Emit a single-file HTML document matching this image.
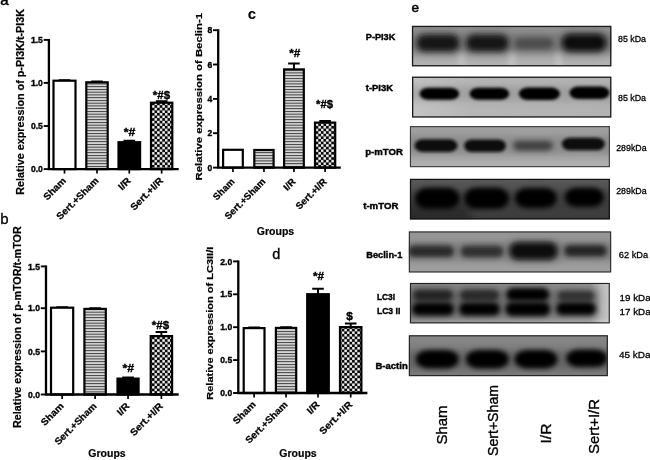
<!DOCTYPE html>
<html><head><meta charset="utf-8"><title>Figure</title>
<style>
html,body{margin:0;padding:0;background:#fff;}
svg{display:block;font-family:"Liberation Sans", Arial, sans-serif;}
text{fill:#000;}
</style></head>
<body>
<svg width="650" height="460" viewBox="0 0 650 460">
<defs>
<pattern id="ck" width="5.2" height="5.2" patternUnits="userSpaceOnUse" patternTransform="translate(1.1 1.2)"><rect width="5.2" height="5.2" fill="#0a0a0a"/><rect x="0.1" y="0.1" width="2.4" height="2.4" fill="#fff"/><rect x="2.7" y="2.7" width="2.4" height="2.4" fill="#fff"/></pattern>
<pattern id="hs" width="2.75" height="2.75" patternUnits="userSpaceOnUse"><rect width="2.75" height="2.75" fill="#f4f4f4"/><rect y="0.8" width="2.75" height="1.25" fill="#3a3a3a"/></pattern>
<filter id="b2" x="-30%" y="-100%" width="160%" height="300%"><feGaussianBlur stdDeviation="1.7"/></filter>
<filter id="b3" x="-30%" y="-100%" width="160%" height="300%"><feGaussianBlur stdDeviation="2.5"/></filter>
<filter id="b4" x="-30%" y="-100%" width="160%" height="300%"><feGaussianBlur stdDeviation="3.5"/></filter>
<linearGradient id="g1" x1="0" y1="0" x2="0" y2="1"><stop offset="0" stop-color="#929292"/><stop offset="0.55" stop-color="#979797"/><stop offset="0.8" stop-color="#acacac"/><stop offset="1" stop-color="#b4b4b4"/></linearGradient>
<linearGradient id="g2" x1="0" y1="0" x2="1" y2="0"><stop offset="0" stop-color="#c4c4c4"/><stop offset="0.3" stop-color="#b6b6b6"/><stop offset="1" stop-color="#b2b2b2"/></linearGradient>
<linearGradient id="g3" x1="0" y1="0" x2="0" y2="1"><stop offset="0" stop-color="#a0a0a0"/><stop offset="0.6" stop-color="#a4a4a4"/><stop offset="1" stop-color="#b2b2b2"/></linearGradient>
<linearGradient id="g4" x1="0" y1="0" x2="0" y2="1"><stop offset="0" stop-color="#585858"/><stop offset="0.5" stop-color="#4e4e4e"/><stop offset="0.8" stop-color="#424242"/><stop offset="1" stop-color="#3a3a3a"/></linearGradient>
<linearGradient id="g5" x1="0" y1="0" x2="0" y2="1"><stop offset="0" stop-color="#969696"/><stop offset="1" stop-color="#a0a0a0"/></linearGradient>
<linearGradient id="g6" x1="0" y1="0" x2="1" y2="0"><stop offset="0" stop-color="#808080"/><stop offset="0.9" stop-color="#8e8e8e"/><stop offset="0.96" stop-color="#bcbcbc"/><stop offset="1" stop-color="#c6c6c6"/></linearGradient>
<linearGradient id="g7" x1="0" y1="0" x2="0" y2="1"><stop offset="0" stop-color="#868686"/><stop offset="1" stop-color="#7c7c7c"/></linearGradient>
<clipPath id="bc1"><rect x="411.9" y="25.8" width="199.5" height="40.6"/></clipPath><clipPath id="bc2"><rect x="412" y="76.6" width="199.4" height="41.0"/></clipPath><clipPath id="bc3"><rect x="409.9" y="126.1" width="200.0" height="41.1"/></clipPath><clipPath id="bc4"><rect x="409.9" y="178.8" width="200.0" height="40.7"/></clipPath><clipPath id="bc5"><rect x="408.8" y="231.4" width="202.4" height="41.1"/></clipPath><clipPath id="bc6"><rect x="409.9" y="282.9" width="199.9" height="40.5"/></clipPath><clipPath id="bc7"><rect x="408.8" y="335.2" width="199.1" height="41.0"/></clipPath></defs>
<rect width="650" height="460" fill="#fff"/>
<g><path d="M64.5 80.6V80.2M58.7 80.2H70.3" stroke="#000" stroke-width="2" fill="none"/>
<rect x="53.50" y="80.70" width="22.00" height="88.40" fill="#fff" stroke="#000" stroke-width="2.2"/>
<path d="M64.5 169.1V173.6" stroke="#000" stroke-width="1.7"/>
<path d="M97.0 82.2V81.6M91.2 81.6H102.8" stroke="#000" stroke-width="2" fill="none"/>
<rect x="86.30" y="82.30" width="21.40" height="86.80" fill="url(#hs)" stroke="#000" stroke-width="2.2"/>
<path d="M97.0 169.1V173.6" stroke="#000" stroke-width="1.7"/>
<path d="M129.3 142.1V140.8M123.50000000000001 140.8H135.10000000000002" stroke="#000" stroke-width="2" fill="none"/>
<rect x="118.50" y="142.20" width="21.60" height="26.90" fill="#000" stroke="#000" stroke-width="2.2"/>
<path d="M129.3 169.1V173.6" stroke="#000" stroke-width="1.7"/>
<path d="M161.65 102.6V101.2M155.85 101.2H167.45000000000002" stroke="#000" stroke-width="2" fill="none"/>
<rect x="151.00" y="102.70" width="21.30" height="66.40" fill="url(#ck)" stroke="#000" stroke-width="2.2"/>
<path d="M161.65 169.1V173.6" stroke="#000" stroke-width="1.7"/>
<path d="M48.9 38.9V170.15M47.8 169.1H178.7" stroke="#000" stroke-width="2.3000000000000003" fill="none"/>
<path d="M43.699999999999996 39.9H48.9" stroke="#000" stroke-width="1.9"/>
<text x="42.9" y="43.0" font-size="8.6" font-weight="bold" text-anchor="end" stroke="#000" stroke-width="0.35">1.5</text>
<path d="M43.699999999999996 82.9H48.9" stroke="#000" stroke-width="1.9"/>
<text x="42.9" y="86.0" font-size="8.6" font-weight="bold" text-anchor="end" stroke="#000" stroke-width="0.35">1.0</text>
<path d="M43.699999999999996 126H48.9" stroke="#000" stroke-width="1.9"/>
<text x="42.9" y="129.1" font-size="8.6" font-weight="bold" text-anchor="end" stroke="#000" stroke-width="0.35">0.5</text>
<path d="M43.699999999999996 169.1H48.9" stroke="#000" stroke-width="1.9"/>
<text x="42.9" y="172.2" font-size="8.6" font-weight="bold" text-anchor="end" stroke="#000" stroke-width="0.35">0.0</text>
<text x="66.7" y="181.3" font-size="9.6" font-weight="bold" text-anchor="end" transform="rotate(-45 66.7 181.3)" textLength="27.5" lengthAdjust="spacingAndGlyphs" stroke="#000" stroke-width="0.25">Sham</text>
<text x="99.2" y="181.3" font-size="9.6" font-weight="bold" text-anchor="end" transform="rotate(-45 99.2 181.3)" textLength="55" lengthAdjust="spacingAndGlyphs" stroke="#000" stroke-width="0.25">Sert.+Sham</text>
<text x="131.5" y="181.3" font-size="9.6" font-weight="bold" text-anchor="end" transform="rotate(-45 131.5 181.3)" textLength="13.5" lengthAdjust="spacingAndGlyphs" stroke="#000" stroke-width="0.25">I/R</text>
<text x="163.85" y="181.3" font-size="9.6" font-weight="bold" text-anchor="end" transform="rotate(-45 163.85 181.3)" textLength="42" lengthAdjust="spacingAndGlyphs" stroke="#000" stroke-width="0.25">Sert.+I/R</text>
<text x="23.9" y="194.7" font-size="10.5" font-weight="bold" transform="rotate(-90 23.9 194.7)" textLength="185.8" lengthAdjust="spacingAndGlyphs" stroke="#000" stroke-width="0.2">Relative expression of p-PI3K/t-PI3K</text>
<text x="129.5" y="136" font-size="11.8" font-weight="bold" text-anchor="middle" textLength="11.6" lengthAdjust="spacingAndGlyphs" stroke="#000" stroke-width="0.4">*#</text>
<text x="161.4" y="98.6" font-size="11.8" font-weight="bold" text-anchor="middle" textLength="17.3" lengthAdjust="spacingAndGlyphs" stroke="#000" stroke-width="0.4">*#$</text></g>
<g><path d="M62.099999999999994 307.6V307.2M56.3 307.2H67.89999999999999" stroke="#000" stroke-width="2" fill="none"/>
<rect x="51.00" y="307.70" width="22.20" height="86.80" fill="#fff" stroke="#000" stroke-width="2.2"/>
<path d="M62.099999999999994 394.5V399.0" stroke="#000" stroke-width="1.7"/>
<path d="M95.1 308.8V308.3M89.3 308.3H100.89999999999999" stroke="#000" stroke-width="2" fill="none"/>
<rect x="84.40" y="308.90" width="21.40" height="85.60" fill="url(#hs)" stroke="#000" stroke-width="2.2"/>
<path d="M95.1 394.5V399.0" stroke="#000" stroke-width="1.7"/>
<path d="M128.05 378.5V377.6M122.25000000000001 377.6H133.85000000000002" stroke="#000" stroke-width="2" fill="none"/>
<rect x="117.50" y="378.60" width="21.10" height="15.90" fill="#000" stroke="#000" stroke-width="2.2"/>
<path d="M128.05 394.5V399.0" stroke="#000" stroke-width="1.7"/>
<path d="M161.39999999999998 336V332M155.59999999999997 332H167.2" stroke="#000" stroke-width="2" fill="none"/>
<rect x="150.70" y="336.10" width="21.40" height="58.40" fill="url(#ck)" stroke="#000" stroke-width="2.2"/>
<path d="M161.39999999999998 394.5V399.0" stroke="#000" stroke-width="1.7"/>
<path d="M46 265.4V395.55M44.9 394.5H178.7" stroke="#000" stroke-width="2.3000000000000003" fill="none"/>
<path d="M40.8 266.4H46" stroke="#000" stroke-width="1.9"/>
<text x="40.0" y="269.5" font-size="8.6" font-weight="bold" text-anchor="end" stroke="#000" stroke-width="0.35">1.5</text>
<path d="M40.8 308.2H46" stroke="#000" stroke-width="1.9"/>
<text x="40.0" y="311.3" font-size="8.6" font-weight="bold" text-anchor="end" stroke="#000" stroke-width="0.35">1.0</text>
<path d="M40.8 351.4H46" stroke="#000" stroke-width="1.9"/>
<text x="40.0" y="354.5" font-size="8.6" font-weight="bold" text-anchor="end" stroke="#000" stroke-width="0.35">0.5</text>
<path d="M40.8 394.5H46" stroke="#000" stroke-width="1.9"/>
<text x="40.0" y="397.6" font-size="8.6" font-weight="bold" text-anchor="end" stroke="#000" stroke-width="0.35">0.0</text>
<text x="64.3" y="406.7" font-size="9.6" font-weight="bold" text-anchor="end" transform="rotate(-45 64.3 406.7)" textLength="27.5" lengthAdjust="spacingAndGlyphs" stroke="#000" stroke-width="0.25">Sham</text>
<text x="97.3" y="406.7" font-size="9.6" font-weight="bold" text-anchor="end" transform="rotate(-45 97.3 406.7)" textLength="55" lengthAdjust="spacingAndGlyphs" stroke="#000" stroke-width="0.25">Sert.+Sham</text>
<text x="130.25" y="406.7" font-size="9.6" font-weight="bold" text-anchor="end" transform="rotate(-45 130.25 406.7)" textLength="13.5" lengthAdjust="spacingAndGlyphs" stroke="#000" stroke-width="0.25">I/R</text>
<text x="163.6" y="406.7" font-size="9.6" font-weight="bold" text-anchor="end" transform="rotate(-45 163.6 406.7)" textLength="42" lengthAdjust="spacingAndGlyphs" stroke="#000" stroke-width="0.25">Sert.+I/R</text>
<text x="21" y="427.9" font-size="10.5" font-weight="bold" transform="rotate(-90 21 427.9)" textLength="201.6" lengthAdjust="spacingAndGlyphs" stroke="#000" stroke-width="0.2">Relative expression of p-mTOR/t-mTOR</text>
<text x="107" y="457.3" font-size="10.5" font-weight="bold" text-anchor="middle" stroke="#000" stroke-width="0.2">Groups</text>
<text x="128.2" y="371.5" font-size="11.8" font-weight="bold" text-anchor="middle" textLength="11.6" lengthAdjust="spacingAndGlyphs" stroke="#000" stroke-width="0.4">*#</text>
<text x="160.5" y="328.5" font-size="11.8" font-weight="bold" text-anchor="middle" textLength="17.3" lengthAdjust="spacingAndGlyphs" stroke="#000" stroke-width="0.4">*#$</text></g>
<g><rect x="223.10" y="149.80" width="19.70" height="17.80" fill="#fff" stroke="#000" stroke-width="2.2"/>
<path d="M232.95 167.6V172.1" stroke="#000" stroke-width="1.7"/>
<rect x="254.30" y="150.00" width="19.30" height="17.60" fill="url(#hs)" stroke="#000" stroke-width="2.2"/>
<path d="M263.95 167.6V172.1" stroke="#000" stroke-width="1.7"/>
<path d="M293.95 69.3V63.5M288.15 63.5H299.75" stroke="#000" stroke-width="2" fill="none"/>
<rect x="284.10" y="69.40" width="19.70" height="98.20" fill="url(#hs)" stroke="#000" stroke-width="2.2"/>
<path d="M293.95 167.6V172.1" stroke="#000" stroke-width="1.7"/>
<path d="M325.1 122.5V121M319.3 121H330.90000000000003" stroke="#000" stroke-width="2" fill="none"/>
<rect x="315.00" y="122.60" width="20.20" height="45.00" fill="url(#ck)" stroke="#000" stroke-width="2.2"/>
<path d="M325.1 167.6V172.1" stroke="#000" stroke-width="1.7"/>
<path d="M218.2 29.2V168.65M217.1 167.6H340.8" stroke="#000" stroke-width="2.3000000000000003" fill="none"/>
<path d="M213.0 30.2H218.2" stroke="#000" stroke-width="1.9"/>
<text x="212.2" y="33.3" font-size="8.6" font-weight="bold" text-anchor="end" stroke="#000" stroke-width="0.35">8</text>
<path d="M213.0 64.5H218.2" stroke="#000" stroke-width="1.9"/>
<text x="212.2" y="67.6" font-size="8.6" font-weight="bold" text-anchor="end" stroke="#000" stroke-width="0.35">6</text>
<path d="M213.0 98.9H218.2" stroke="#000" stroke-width="1.9"/>
<text x="212.2" y="102.0" font-size="8.6" font-weight="bold" text-anchor="end" stroke="#000" stroke-width="0.35">4</text>
<path d="M213.0 133.2H218.2" stroke="#000" stroke-width="1.9"/>
<text x="212.2" y="136.29999999999998" font-size="8.6" font-weight="bold" text-anchor="end" stroke="#000" stroke-width="0.35">2</text>
<path d="M213.0 167.6H218.2" stroke="#000" stroke-width="1.9"/>
<text x="212.2" y="170.7" font-size="8.6" font-weight="bold" text-anchor="end" stroke="#000" stroke-width="0.35">0</text>
<text x="235.15" y="182.3" font-size="9.6" font-weight="bold" text-anchor="end" transform="rotate(-45 235.15 182.3)" textLength="26" lengthAdjust="spacingAndGlyphs" stroke="#000" stroke-width="0.25">Sham</text>
<text x="266.15" y="182.3" font-size="9.6" font-weight="bold" text-anchor="end" transform="rotate(-45 266.15 182.3)" textLength="53.2" lengthAdjust="spacingAndGlyphs" stroke="#000" stroke-width="0.25">Sert.+Sham</text>
<text x="296.15" y="182.3" font-size="9.6" font-weight="bold" text-anchor="end" transform="rotate(-45 296.15 182.3)" textLength="12.5" lengthAdjust="spacingAndGlyphs" stroke="#000" stroke-width="0.25">I/R</text>
<text x="327.3" y="182.3" font-size="9.6" font-weight="bold" text-anchor="end" transform="rotate(-45 327.3 182.3)" textLength="39.3" lengthAdjust="spacingAndGlyphs" stroke="#000" stroke-width="0.25">Sert.+I/R</text>
<text x="202.4" y="180.4" font-size="9.5" font-weight="bold" transform="rotate(-90 202.4 180.4)" textLength="167.4" lengthAdjust="spacingAndGlyphs" stroke="#000" stroke-width="0.2">Relative expression of Beclin-1</text>
<text x="275.5" y="234.7" font-size="10.5" font-weight="bold" text-anchor="middle" stroke="#000" stroke-width="0.2">Groups</text>
<text x="294.7" y="57" font-size="11.8" font-weight="bold" text-anchor="middle" textLength="11.1" lengthAdjust="spacingAndGlyphs" stroke="#000" stroke-width="0.4">*#</text>
<text x="324.5" y="108" font-size="11.8" font-weight="bold" text-anchor="middle" textLength="17" lengthAdjust="spacingAndGlyphs" stroke="#000" stroke-width="0.4">*#$</text></g>
<g><path d="M254.10000000000002 328V327.5M248.3 327.5H259.90000000000003" stroke="#000" stroke-width="2" fill="none"/>
<rect x="243.70" y="328.10" width="20.80" height="64.90" fill="#fff" stroke="#000" stroke-width="2.2"/>
<path d="M254.10000000000002 393V397.5" stroke="#000" stroke-width="1.7"/>
<path d="M286.05 327.8V327.2M280.25 327.2H291.85" stroke="#000" stroke-width="2" fill="none"/>
<rect x="275.90" y="327.90" width="20.30" height="65.10" fill="url(#hs)" stroke="#000" stroke-width="2.2"/>
<path d="M286.05 393V397.5" stroke="#000" stroke-width="1.7"/>
<path d="M318.0 294.1V288.8M312.2 288.8H323.8" stroke="#000" stroke-width="2" fill="none"/>
<rect x="307.20" y="294.20" width="21.60" height="98.80" fill="#000" stroke="#000" stroke-width="2.2"/>
<path d="M318.0 393V397.5" stroke="#000" stroke-width="1.7"/>
<path d="M350.7 327V323.5M344.9 323.5H356.5" stroke="#000" stroke-width="2" fill="none"/>
<rect x="340.00" y="327.10" width="21.40" height="65.90" fill="url(#ck)" stroke="#000" stroke-width="2.2"/>
<path d="M350.7 393V397.5" stroke="#000" stroke-width="1.7"/>
<path d="M238.3 260.4V394.05M237.20000000000002 393H367.4" stroke="#000" stroke-width="2.3000000000000003" fill="none"/>
<path d="M233.10000000000002 261.4H238.3" stroke="#000" stroke-width="1.9"/>
<text x="232.3" y="264.5" font-size="8.6" font-weight="bold" text-anchor="end" stroke="#000" stroke-width="0.35">2.0</text>
<path d="M233.10000000000002 294.3H238.3" stroke="#000" stroke-width="1.9"/>
<text x="232.3" y="297.40000000000003" font-size="8.6" font-weight="bold" text-anchor="end" stroke="#000" stroke-width="0.35">1.5</text>
<path d="M233.10000000000002 327.2H238.3" stroke="#000" stroke-width="1.9"/>
<text x="232.3" y="330.3" font-size="8.6" font-weight="bold" text-anchor="end" stroke="#000" stroke-width="0.35">1.0</text>
<path d="M233.10000000000002 360.1H238.3" stroke="#000" stroke-width="1.9"/>
<text x="232.3" y="363.20000000000005" font-size="8.6" font-weight="bold" text-anchor="end" stroke="#000" stroke-width="0.35">0.5</text>
<path d="M233.10000000000002 393H238.3" stroke="#000" stroke-width="1.9"/>
<text x="232.3" y="396.1" font-size="8.6" font-weight="bold" text-anchor="end" stroke="#000" stroke-width="0.35">0.0</text>
<text x="256.3" y="405.2" font-size="9.6" font-weight="bold" text-anchor="end" transform="rotate(-45 256.3 405.2)" textLength="27.5" lengthAdjust="spacingAndGlyphs" stroke="#000" stroke-width="0.25">Sham</text>
<text x="288.25" y="405.2" font-size="9.6" font-weight="bold" text-anchor="end" transform="rotate(-45 288.25 405.2)" textLength="55" lengthAdjust="spacingAndGlyphs" stroke="#000" stroke-width="0.25">Sert.+Sham</text>
<text x="320.2" y="405.2" font-size="9.6" font-weight="bold" text-anchor="end" transform="rotate(-45 320.2 405.2)" textLength="13.5" lengthAdjust="spacingAndGlyphs" stroke="#000" stroke-width="0.25">I/R</text>
<text x="352.9" y="405.2" font-size="9.6" font-weight="bold" text-anchor="end" transform="rotate(-45 352.9 405.2)" textLength="42" lengthAdjust="spacingAndGlyphs" stroke="#000" stroke-width="0.25">Sert.+I/R</text>
<text x="213.4" y="399.7" font-size="9.3" font-weight="bold" transform="rotate(-90 213.4 399.7)" textLength="153" lengthAdjust="spacingAndGlyphs" stroke="#000" stroke-width="0.2">Relative expression of LC3II/I</text>
<text x="298" y="456.5" font-size="10.5" font-weight="bold" text-anchor="middle" stroke="#000" stroke-width="0.2">Groups</text>
<text x="318.5" y="280" font-size="11.8" font-weight="bold" text-anchor="middle" textLength="11.1" lengthAdjust="spacingAndGlyphs" stroke="#000" stroke-width="0.4">*#</text>
<text x="349.5" y="320" font-size="11.8" font-weight="bold" text-anchor="middle" stroke="#000" stroke-width="0.4">$</text></g>
<text x="0.2" y="5" font-size="15" stroke="#000" stroke-width="0.5">a</text>
<text x="0.3" y="224.4" font-size="15" stroke="#000" stroke-width="0.3">b</text>
<text x="247.8" y="19.3" font-size="15" font-weight="bold">c</text>
<text x="272.2" y="259.3" font-size="14.5" stroke="#000" stroke-width="0.3">d</text>
<text x="411.4" y="12.2" font-size="13.5" stroke="#000" stroke-width="0.55">e</text>
<g clip-path="url(#bc1)">
<rect x="411.9" y="25.8" width="199.5" height="40.6" fill="url(#g1)"/>
<rect x="405" y="33" width="215.0" height="20.0" fill="#6a6a6a" opacity="0.5" filter="url(#b4)"/><rect x="458" y="52" width="7.0" height="18.0" fill="#fff" opacity="0.2" filter="url(#b3)"/><rect x="508" y="52" width="8.0" height="18.0" fill="#fff" opacity="0.2" filter="url(#b3)"/><rect x="555" y="52" width="7.0" height="18.0" fill="#fff" opacity="0.2" filter="url(#b3)"/>
<rect x="414.0" y="32.0" width="48.0" height="22.0" rx="11.0" ry="11.0" fill="#383838" opacity="0.45" filter="url(#b4)"/>
<rect x="463.5" y="32.0" width="48.0" height="22.0" rx="11.0" ry="11.0" fill="#383838" opacity="0.45" filter="url(#b4)"/>
<rect x="559.0" y="31.2" width="50.0" height="23.0" rx="11.5" ry="11.5" fill="#383838" opacity="0.5" filter="url(#b4)"/>
<rect x="513.0" y="35.5" width="42.0" height="16.0" rx="8.0" ry="8.0" fill="#484848" opacity="0.3" filter="url(#b4)"/>
<rect x="417.5" y="35.4" width="41.0" height="15.2" rx="7.6" ry="7.6" fill="#121212" opacity="1" filter="url(#b3)"/>
<rect x="466.8" y="35.4" width="41.0" height="15.2" rx="7.6" ry="7.6" fill="#121212" opacity="1" filter="url(#b3)"/>
<rect x="515.0" y="38.5" width="38.0" height="10.0" rx="5.0" ry="5.0" fill="#484848" opacity="0.9" filter="url(#b3)"/>
<rect x="562.5" y="34.7" width="43.0" height="16.0" rx="8.0" ry="8.0" fill="#0e0e0e" opacity="1" filter="url(#b3)"/>
</g>
<rect x="412.55" y="26.45" width="198.20" height="39.30" fill="none" stroke="#1a1a1a" stroke-width="1.3"/>
<g clip-path="url(#bc2)">
<rect x="412" y="76.6" width="199.4" height="41.0" fill="url(#g2)"/>
<rect x="405" y="86" width="215.0" height="15.0" fill="#707070" opacity="0.3" filter="url(#b4)"/>
<rect x="419.6" y="87.8" width="39.6" height="12.0" rx="8.4" ry="6.0" fill="#040404" opacity="1" filter="url(#b2)"/>
<rect x="469.6" y="87.8" width="39.6" height="12.0" rx="8.4" ry="6.0" fill="#040404" opacity="1" filter="url(#b2)"/>
<rect x="518.9" y="87.6" width="41.0" height="12.4" rx="8.7" ry="6.2" fill="#040404" opacity="1" filter="url(#b2)"/>
<rect x="569.5" y="86.6" width="40.0" height="12.4" rx="8.7" ry="6.2" fill="#040404" opacity="1" filter="url(#b2)"/>
</g>
<rect x="412.65" y="77.25" width="198.10" height="39.70" fill="none" stroke="#1a1a1a" stroke-width="1.3"/>
<g clip-path="url(#bc3)">
<rect x="409.9" y="126.1" width="200.0" height="41.1" fill="url(#g3)"/>
<rect x="405" y="136" width="215.0" height="19.0" fill="#606060" opacity="0.35" filter="url(#b4)"/>
<rect x="414.5" y="139.3" width="43.0" height="12.6" rx="8.2" ry="6.3" fill="#0e0e0e" opacity="1" filter="url(#b2)"/>
<rect x="464.0" y="139.5" width="42.0" height="12.6" rx="8.2" ry="6.3" fill="#0e0e0e" opacity="1" filter="url(#b2)"/>
<rect x="513.0" y="140.8" width="40.0" height="10.0" rx="6.5" ry="5.0" fill="#3a3a3a" opacity="0.9" filter="url(#b3)"/>
<rect x="561.8" y="137.7" width="43.0" height="12.6" rx="8.2" ry="6.3" fill="#0c0c0c" opacity="1" filter="url(#b2)"/>
</g>
<rect x="410.45" y="126.65" width="198.90" height="40.00" fill="none" stroke="#3a3a3a" stroke-width="1.1"/>
<g clip-path="url(#bc4)">
<rect x="409.9" y="178.8" width="200.0" height="40.7" fill="url(#g4)"/>
<rect x="405" y="190" width="215.0" height="20.0" fill="#202020" opacity="0.3" filter="url(#b4)"/><rect x="405" y="205" width="65.0" height="20.0" fill="#101010" opacity="0.35" filter="url(#b4)"/>
<rect x="414.8" y="187.8" width="45.0" height="21.0" rx="12.6" ry="10.5" fill="#000" opacity="1" filter="url(#b3)"/>
<rect x="464.1" y="187.8" width="45.0" height="21.0" rx="12.6" ry="10.5" fill="#000" opacity="1" filter="url(#b3)"/>
<rect x="514.8" y="188.0" width="42.0" height="20.0" rx="12.0" ry="10.0" fill="#000" opacity="1" filter="url(#b3)"/>
<rect x="564.8" y="187.8" width="39.0" height="19.0" rx="11.4" ry="9.5" fill="#000" opacity="1" filter="url(#b3)"/>
</g>
<rect x="410.50" y="179.40" width="198.80" height="39.50" fill="none" stroke="#111" stroke-width="1.2"/>
<g clip-path="url(#bc5)">
<rect x="408.8" y="231.4" width="202.4" height="41.1" fill="url(#g5)"/>
<rect x="400" y="242" width="220.0" height="19.0" fill="#5a5a5a" opacity="0.4" filter="url(#b4)"/>
<rect x="408.0" y="245.5" width="46.0" height="11.6" rx="5.8" ry="5.8" fill="#202020" opacity="0.92" filter="url(#b3)"/>
<rect x="460.5" y="245.7" width="43.0" height="11.6" rx="5.8" ry="5.8" fill="#262626" opacity="0.9" filter="url(#b3)"/>
<rect x="508.0" y="240.5" width="51.0" height="21.0" rx="10.5" ry="10.5" fill="#303030" opacity="0.5" filter="url(#b4)"/>
<rect x="510.0" y="243.0" width="47.0" height="16.0" rx="8.0" ry="8.0" fill="#0a0a0a" opacity="1" filter="url(#b3)"/>
<rect x="564.0" y="245.0" width="43.0" height="11.6" rx="5.8" ry="5.8" fill="#1e1e1e" opacity="0.92" filter="url(#b3)"/>
</g>
<rect x="409.35" y="231.95" width="201.30" height="40.00" fill="none" stroke="#2a2a2a" stroke-width="1.1"/>
<g clip-path="url(#bc6)">
<rect x="409.9" y="282.9" width="199.9" height="40.5" fill="url(#g6)"/>
<rect x="400" y="290" width="200.0" height="26.0" fill="#3a3a3a" opacity="0.35" filter="url(#b4)"/><rect x="400" y="319.5" width="220.0" height="6.5" fill="#fff" opacity="0.18" filter="url(#b2)"/>
<rect x="413.0" y="289.7" width="40.0" height="11.2" rx="5.6" ry="5.6" fill="#1c1c1c" opacity="0.92" filter="url(#b3)"/>
<rect x="460.0" y="289.7" width="39.0" height="11.2" rx="5.6" ry="5.6" fill="#202020" opacity="0.9" filter="url(#b3)"/>
<rect x="506.3" y="287.9" width="43.0" height="13.2" rx="6.6" ry="6.6" fill="#060606" opacity="1" filter="url(#b3)"/>
<rect x="557.5" y="290.8" width="37.0" height="10.4" rx="5.2" ry="5.2" fill="#2c2c2c" opacity="0.9" filter="url(#b3)"/>
<rect x="412.0" y="302.4" width="42.0" height="13.2" rx="6.6" ry="6.6" fill="#020202" opacity="1" filter="url(#b3)"/>
<rect x="459.0" y="302.4" width="41.0" height="13.2" rx="6.6" ry="6.6" fill="#020202" opacity="1" filter="url(#b3)"/>
<rect x="505.3" y="302.0" width="45.0" height="14.0" rx="7.0" ry="7.0" fill="#000" opacity="1" filter="url(#b3)"/>
<rect x="556.0" y="302.3" width="40.0" height="12.8" rx="6.4" ry="6.4" fill="#040404" opacity="1" filter="url(#b3)"/>
</g>
<rect x="410.45" y="283.45" width="198.80" height="39.40" fill="none" stroke="#222" stroke-width="1.1"/>
<g clip-path="url(#bc7)">
<rect x="408.8" y="335.2" width="199.1" height="41.0" fill="url(#g7)"/>
<rect x="400" y="350" width="220.0" height="20.0" fill="#404040" opacity="0.4" filter="url(#b4)"/>
<rect x="415.8" y="349.9" width="43.0" height="18.6" rx="12.6" ry="9.3" fill="#000" opacity="1" filter="url(#b3)"/>
<rect x="465.9" y="349.9" width="43.0" height="18.6" rx="12.6" ry="9.3" fill="#000" opacity="1" filter="url(#b3)"/>
<rect x="514.4" y="349.9" width="43.0" height="18.6" rx="12.6" ry="9.3" fill="#000" opacity="1" filter="url(#b3)"/>
<rect x="566.3" y="349.4" width="41.0" height="17.6" rx="11.9" ry="8.8" fill="#000" opacity="1" filter="url(#b3)"/>
</g>
<rect x="409.40" y="335.80" width="197.90" height="39.80" fill="none" stroke="#262626" stroke-width="1.2"/>
<text x="365.8" y="40.4" font-size="9.2" font-weight="bold" textLength="29.5" lengthAdjust="spacingAndGlyphs" stroke="#000" stroke-width="0.4">P-PI3K</text>
<text x="365.8" y="91.2" font-size="9.2" font-weight="bold" textLength="27.2" lengthAdjust="spacingAndGlyphs" stroke="#000" stroke-width="0.4">t-PI3K</text>
<text x="365.2" y="155" font-size="9.2" font-weight="bold" textLength="37.7" lengthAdjust="spacingAndGlyphs" stroke="#000" stroke-width="0.4">p-mTOR</text>
<text x="363.2" y="208.5" font-size="9.2" font-weight="bold" textLength="35.2" lengthAdjust="spacingAndGlyphs" stroke="#000" stroke-width="0.4">t-mTOR</text>
<text x="366.3" y="258.4" font-size="9.4" font-weight="bold" textLength="36" lengthAdjust="spacingAndGlyphs" stroke="#000" stroke-width="0.4">Beclin-1</text>
<text x="376.9" y="300.4" font-size="9.4" font-weight="bold" textLength="18.1" lengthAdjust="spacingAndGlyphs" stroke="#000" stroke-width="0.4">LC3I</text>
<text x="376.9" y="313.5" font-size="9.4" font-weight="bold" textLength="23.4" lengthAdjust="spacingAndGlyphs" stroke="#000" stroke-width="0.4">LC3 II</text>
<text x="375.5" y="369" font-size="9.2" font-weight="bold" textLength="32.2" lengthAdjust="spacingAndGlyphs" stroke="#000" stroke-width="0.4">B-actin</text>
<text x="618" y="41.6" font-size="9.9" textLength="28" lengthAdjust="spacingAndGlyphs" stroke="#000" stroke-width="0.3">85 kDa</text>
<text x="618" y="100.6" font-size="9.9" textLength="28" lengthAdjust="spacingAndGlyphs" stroke="#000" stroke-width="0.3">85 kDa</text>
<text x="616.2" y="151" font-size="9.9" textLength="30.4" lengthAdjust="spacingAndGlyphs" stroke="#000" stroke-width="0.3">289kDa</text>
<text x="616.2" y="193.7" font-size="9.9" textLength="30.4" lengthAdjust="spacingAndGlyphs" stroke="#000" stroke-width="0.3">289kDa</text>
<text x="618.8" y="258" font-size="9.9" textLength="29.3" lengthAdjust="spacingAndGlyphs" stroke="#000" stroke-width="0.3">62 kDa</text>
<text x="619.6" y="301" font-size="9.9" textLength="31" lengthAdjust="spacingAndGlyphs" stroke="#000" stroke-width="0.3">19 kDa</text>
<text x="619.6" y="314.7" font-size="9.9" textLength="31" lengthAdjust="spacingAndGlyphs" stroke="#000" stroke-width="0.3">17 kDa</text>
<text x="619" y="358" font-size="9.9" textLength="31.5" lengthAdjust="spacingAndGlyphs" stroke="#000" stroke-width="0.3">45 kDa</text>
<text x="446.5" y="444.5" font-size="14.2" transform="rotate(-90 446.5 444.5)" textLength="39" lengthAdjust="spacingAndGlyphs" stroke="#000" stroke-width="0.35">Sham</text>
<text x="497.5" y="456" font-size="14.2" transform="rotate(-90 497.5 456)" textLength="71" lengthAdjust="spacingAndGlyphs" stroke="#000" stroke-width="0.35">Sert+Sham</text>
<text x="551" y="443.5" font-size="14.2" transform="rotate(-90 551 443.5)" textLength="20" lengthAdjust="spacingAndGlyphs" stroke="#000" stroke-width="0.35">I/R</text>
<text x="598.5" y="454" font-size="14.2" transform="rotate(-90 598.5 454)" textLength="55" lengthAdjust="spacingAndGlyphs" stroke="#000" stroke-width="0.35">Sert+I/R</text>
</svg>
</body></html>
